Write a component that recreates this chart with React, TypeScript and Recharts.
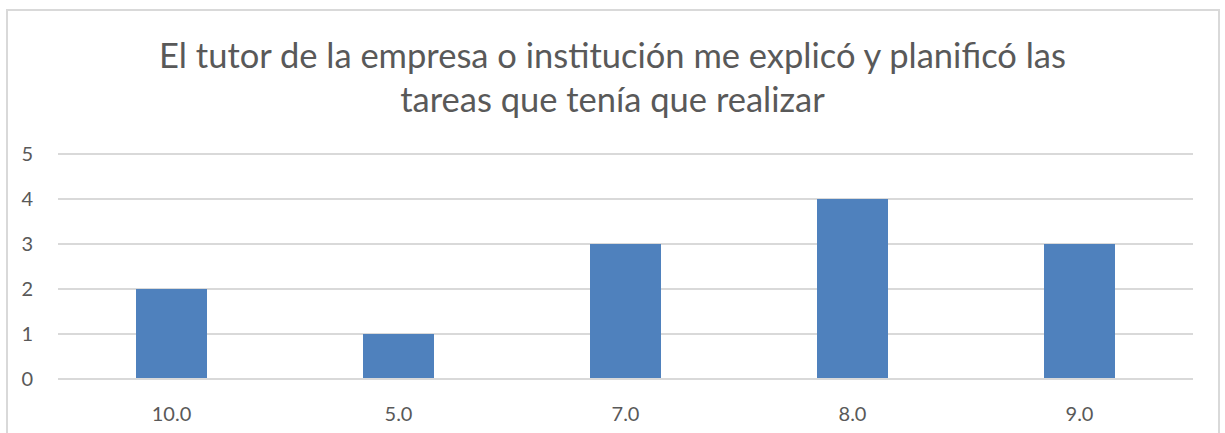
import React from 'react';
import { BarChart, Bar, XAxis, YAxis, CartesianGrid } from 'recharts';

const categories = ['10.0', '5.0', '7.0', '8.0', '9.0'];
const counts = [2, 1, 3, 4, 3];
const yTicks = [0, 1, 2, 3, 4, 5];

const data = categories.map((name, i) => ({ name, value: counts[i] }));

const TEXT = '#595959';
const GRID = '#d9d9d9';
const FONT = 'Lato, "Open Sans", sans-serif';

const App: React.FC = () => {
  return (
    <div
      style={{
        position: 'absolute',
        left: 0,
        top: 0,
        width: 1225,
        height: 433,
        overflow: 'hidden',
        background: '#fff',
        fontFamily: FONT,
      }}
    >
      {/* chart frame */}
      <div
        style={{
          position: 'absolute',
          left: 6,
          top: 9,
          width: 1214,
          height: 460,
          border: `2px solid ${GRID}`,
          boxSizing: 'border-box',
        }}
      />
      <div
        style={{
          position: 'absolute',
          left: 0,
          top: 33,
          width: 1225,
          textAlign: 'center',
          color: TEXT,
          fontSize: 34.5,
          lineHeight: '44px',
        }}
      >
        El tutor de la empresa o institución me explicó y planificó las
        <br />
        tareas que tenía que realizar
      </div>
      <div style={{ position: 'absolute', left: 0, top: 0 }}>
        <BarChart
          width={1225}
          height={433}
          data={data}
          margin={{ top: 154, right: 32, bottom: 0, left: 0 }}
          barCategoryGap={0}
        >
          <CartesianGrid horizontal vertical={false} stroke={GRID} strokeWidth={2} />
          <XAxis
            dataKey="name"
            axisLine={{ stroke: GRID, strokeWidth: 2 }}
            tickLine={false}
            tickSize={0}
            tickMargin={28}
            fontSize={20}
            tick={{ fill: TEXT, fontSize: 20, fontFamily: FONT }}
            height={54}
          />
          <YAxis
            domain={[0, 5]}
            ticks={yTicks}
            axisLine={false}
            tickLine={false}
            tickSize={0}
            tickMargin={25}
            width={58}
            fontSize={20}
            tick={{ fill: TEXT, fontSize: 20, fontFamily: FONT }}
          />
          <Bar dataKey="value" fill="#4F81BD" barSize={71} isAnimationActive={false} />
        </BarChart>
      </div>
    </div>
  );
};

export default App;
